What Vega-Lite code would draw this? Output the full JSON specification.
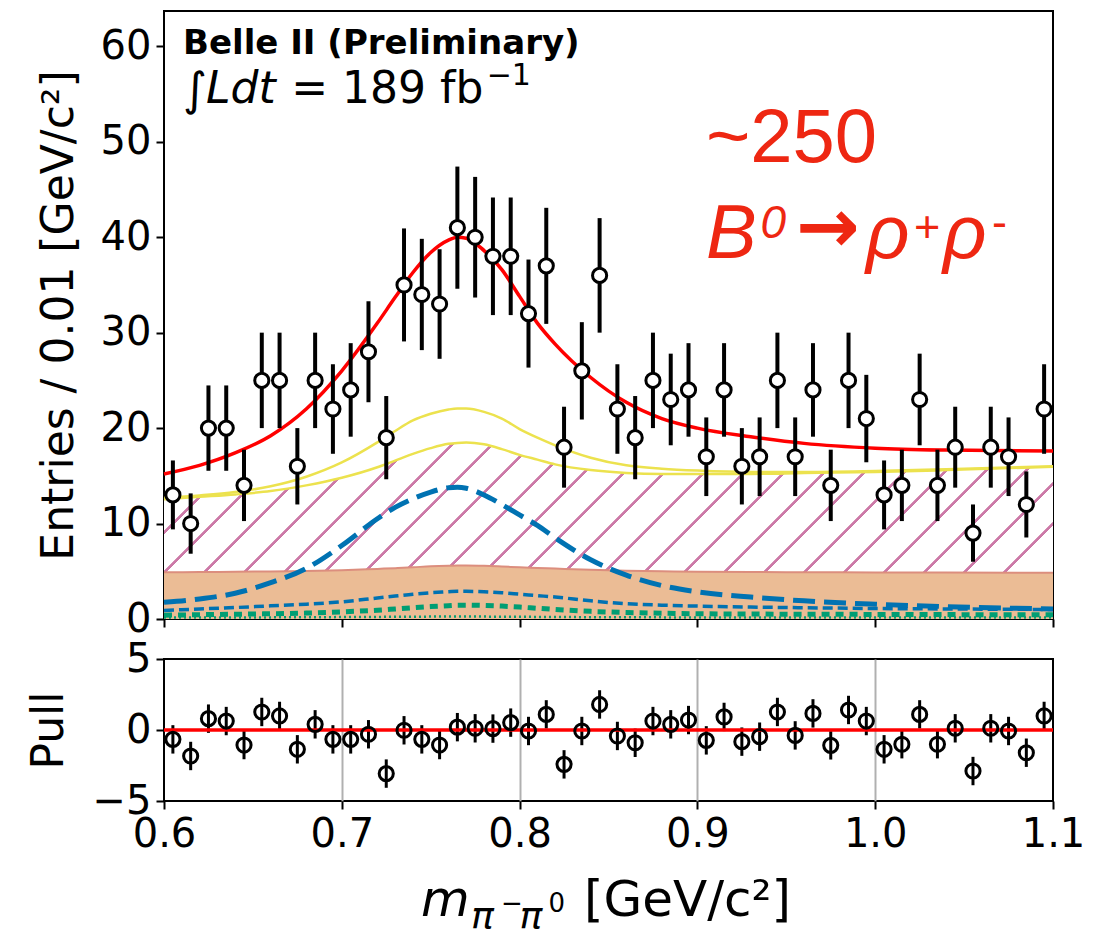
{
  "$schema": "https://vega.github.io/schema/vega-lite/v6.json",
  "background": "white",
  "padding": {"left": 26, "top": 10, "right": 10, "bottom": 5},
  "bounds": "flush",
  "spacing": 40,
  "config": {
    "font": "DejaVu Sans",
    "view": {"stroke": "black", "strokeWidth": 2},
    "axis": {
      "labelFont": "DejaVu Sans", "labelFontSize": 40, "labelColor": "black",
      "titleFont": "DejaVu Sans", "titleFontSize": 44, "titleFontWeight": "normal", "titleColor": "black",
      "tickColor": "black", "tickWidth": 2, "tickSize": 8, "domain": false, "grid": false,
      "labelFlush": false, "labelPadding": 5, "labelOverlap": false
    }
  },
  "datasets": {
    "pts": [
      {"x":0.605,"n":13,"lo":9.39,"hi":16.61,"p":-0.66,"plo":-1.66,"phi":0.34},
      {"x":0.615,"n":10,"lo":6.84,"hi":13.16,"p":-1.83,"plo":-2.83,"phi":-0.83},
      {"x":0.625,"n":20,"lo":15.53,"hi":24.47,"p":0.8,"plo":-0.2,"phi":1.8},
      {"x":0.635,"n":20,"lo":15.53,"hi":24.47,"p":0.63,"plo":-0.37,"phi":1.63},
      {"x":0.645,"n":14,"lo":10.26,"hi":17.74,"p":-1.06,"plo":-2.06,"phi":-0.06},
      {"x":0.655,"n":25,"lo":20,"hi":30,"p":1.27,"plo":0.27,"phi":2.27},
      {"x":0.665,"n":25,"lo":20,"hi":30,"p":0.99,"plo":-0.01,"phi":1.99},
      {"x":0.675,"n":16,"lo":12,"hi":20,"p":-1.36,"plo":-2.36,"phi":-0.36},
      {"x":0.685,"n":25,"lo":20,"hi":30,"p":0.4,"plo":-0.6,"phi":1.4},
      {"x":0.695,"n":22,"lo":17.31,"hi":26.69,"p":-0.66,"plo":-1.66,"phi":0.34},
      {"x":0.705,"n":24,"lo":19.1,"hi":28.9,"p":-0.66,"plo":-1.66,"phi":0.34},
      {"x":0.715,"n":28,"lo":22.71,"hi":33.29,"p":-0.3,"plo":-1.3,"phi":0.7},
      {"x":0.725,"n":19,"lo":14.64,"hi":23.36,"p":-3.07,"plo":-4.07,"phi":-2.07},
      {"x":0.735,"n":35,"lo":29.08,"hi":40.92,"p":-0.02,"plo":-1.02,"phi":0.98},
      {"x":0.745,"n":34,"lo":28.17,"hi":39.83,"p":-0.66,"plo":-1.66,"phi":0.34},
      {"x":0.755,"n":33,"lo":27.26,"hi":38.74,"p":-1.06,"plo":-2.06,"phi":-0.06},
      {"x":0.765,"n":41,"lo":34.6,"hi":47.4,"p":0.2,"plo":-0.8,"phi":1.2},
      {"x":0.775,"n":40,"lo":33.68,"hi":46.32,"p":0.12,"plo":-0.88,"phi":1.12},
      {"x":0.785,"n":38,"lo":31.84,"hi":44.16,"p":0.1,"plo":-0.9,"phi":1.1},
      {"x":0.795,"n":38,"lo":31.84,"hi":44.16,"p":0.52,"plo":-0.48,"phi":1.52},
      {"x":0.805,"n":32,"lo":26.34,"hi":37.66,"p":-0.07,"plo":-1.07,"phi":0.93},
      {"x":0.815,"n":37,"lo":30.92,"hi":43.08,"p":1.1,"plo":0.1,"phi":2.1},
      {"x":0.825,"n":18,"lo":13.76,"hi":22.24,"p":-2.42,"plo":-3.42,"phi":-1.42},
      {"x":0.835,"n":26,"lo":20.9,"hi":31.1,"p":-0.07,"plo":-1.07,"phi":0.93},
      {"x":0.845,"n":36,"lo":30,"hi":42,"p":1.8,"plo":0.8,"phi":2.8},
      {"x":0.855,"n":22,"lo":17.31,"hi":26.69,"p":-0.42,"plo":-1.42,"phi":0.58},
      {"x":0.865,"n":19,"lo":14.64,"hi":23.36,"p":-0.9,"plo":-1.9,"phi":0.1},
      {"x":0.875,"n":25,"lo":20,"hi":30,"p":0.63,"plo":-0.37,"phi":1.63},
      {"x":0.885,"n":23,"lo":18.2,"hi":27.8,"p":0.4,"plo":-0.6,"phi":1.4},
      {"x":0.895,"n":24,"lo":19.1,"hi":28.9,"p":0.7,"plo":-0.3,"phi":1.7},
      {"x":0.905,"n":17,"lo":12.88,"hi":21.12,"p":-0.73,"plo":-1.73,"phi":0.27},
      {"x":0.915,"n":24,"lo":19.1,"hi":28.9,"p":0.92,"plo":-0.08,"phi":1.92},
      {"x":0.925,"n":16,"lo":12,"hi":20,"p":-0.82,"plo":-1.82,"phi":0.18},
      {"x":0.935,"n":17,"lo":12.88,"hi":21.12,"p":-0.47,"plo":-1.47,"phi":0.53},
      {"x":0.945,"n":25,"lo":20,"hi":30,"p":1.27,"plo":0.27,"phi":2.27},
      {"x":0.955,"n":17,"lo":12.88,"hi":21.12,"p":-0.38,"plo":-1.38,"phi":0.62},
      {"x":0.965,"n":24,"lo":19.1,"hi":28.9,"p":1.17,"plo":0.17,"phi":2.17},
      {"x":0.975,"n":14,"lo":10.26,"hi":17.74,"p":-1.08,"plo":-2.08,"phi":-0.08},
      {"x":0.985,"n":25,"lo":20,"hi":30,"p":1.41,"plo":0.41,"phi":2.41},
      {"x":0.995,"n":21,"lo":16.42,"hi":25.58,"p":0.63,"plo":-0.37,"phi":1.63},
      {"x":1.005,"n":13,"lo":9.39,"hi":16.61,"p":-1.36,"plo":-2.36,"phi":-0.36},
      {"x":1.015,"n":14,"lo":10.26,"hi":17.74,"p":-1.0,"plo":-2.0,"phi":0.0},
      {"x":1.025,"n":23,"lo":18.2,"hi":27.8,"p":1.1,"plo":0.1,"phi":2.1},
      {"x":1.035,"n":14,"lo":10.26,"hi":17.74,"p":-1.0,"plo":-2.0,"phi":0.0},
      {"x":1.045,"n":18,"lo":13.76,"hi":22.24,"p":0.12,"plo":-0.88,"phi":1.12},
      {"x":1.055,"n":9,"lo":6,"hi":12,"p":-2.89,"plo":-3.89,"phi":-1.89},
      {"x":1.065,"n":18,"lo":13.76,"hi":22.24,"p":0.12,"plo":-0.88,"phi":1.12},
      {"x":1.075,"n":17,"lo":12.88,"hi":21.12,"p":-0.07,"plo":-1.07,"phi":0.93},
      {"x":1.085,"n":12,"lo":8.54,"hi":15.46,"p":-1.6,"plo":-2.6,"phi":-0.6},
      {"x":1.095,"n":22,"lo":17.31,"hi":26.69,"p":0.99,"plo":-0.01,"phi":1.99}
    ],
    "curves": [
      {"x":0.60,"tot":15.2,"yu":12.7,"yl":12.55,"org":4.9,"sig":1.75,"bsd":0.9,"gd":0.4,"gdt":0.15},
      {"x":0.62,"tot":16.1,"yu":12.95,"yl":12.8,"org":4.92,"sig":2.1,"bsd":1.05,"gd":0.45,"gdt":0.15},
      {"x":0.64,"tot":17.4,"yu":13.3,"yl":13.05,"org":4.95,"sig":2.7,"bsd":1.2,"gd":0.5,"gdt":0.16},
      {"x":0.66,"tot":19.2,"yu":13.9,"yl":13.4,"org":4.98,"sig":3.8,"bsd":1.38,"gd":0.55,"gdt":0.17},
      {"x":0.68,"tot":22.0,"yu":14.9,"yl":14.0,"org":5.02,"sig":5.3,"bsd":1.55,"gd":0.62,"gdt":0.18},
      {"x":0.70,"tot":26.0,"yu":16.4,"yl":14.8,"org":5.1,"sig":7.7,"bsd":1.8,"gd":0.75,"gdt":0.2},
      {"x":0.72,"tot":31.0,"yu":18.5,"yl":15.9,"org":5.25,"sig":10.5,"bsd":2.2,"gd":0.92,"gdt":0.22},
      {"x":0.73,"tot":33.7,"yu":19.7,"yl":16.6,"org":5.33,"sig":11.7,"bsd":2.4,"gd":1.05,"gdt":0.23},
      {"x":0.74,"tot":36.3,"yu":20.8,"yl":17.3,"org":5.42,"sig":12.6,"bsd":2.6,"gd":1.18,"gdt":0.24},
      {"x":0.75,"tot":38.4,"yu":21.5,"yl":17.9,"org":5.52,"sig":13.3,"bsd":2.75,"gd":1.3,"gdt":0.25},
      {"x":0.76,"tot":39.7,"yu":21.95,"yl":18.35,"org":5.58,"sig":13.75,"bsd":2.85,"gd":1.4,"gdt":0.26},
      {"x":0.765,"tot":40.0,"yu":22.05,"yl":18.45,"org":5.6,"sig":13.8,"bsd":2.9,"gd":1.45,"gdt":0.26},
      {"x":0.77,"tot":39.9,"yu":22.05,"yl":18.5,"org":5.6,"sig":13.7,"bsd":2.9,"gd":1.45,"gdt":0.26},
      {"x":0.78,"tot":38.6,"yu":21.7,"yl":18.3,"org":5.57,"sig":13.0,"bsd":2.85,"gd":1.42,"gdt":0.25},
      {"x":0.79,"tot":36.6,"yu":21.0,"yl":17.8,"org":5.5,"sig":12.0,"bsd":2.75,"gd":1.35,"gdt":0.24},
      {"x":0.80,"tot":33.8,"yu":19.9,"yl":17.2,"org":5.42,"sig":10.9,"bsd":2.6,"gd":1.25,"gdt":0.23},
      {"x":0.81,"tot":31.0,"yu":19.0,"yl":16.7,"org":5.35,"sig":9.8,"bsd":2.45,"gd":1.12,"gdt":0.22},
      {"x":0.82,"tot":28.8,"yu":18.2,"yl":16.2,"org":5.28,"sig":8.5,"bsd":2.3,"gd":1.0,"gdt":0.21},
      {"x":0.84,"tot":25.3,"yu":16.9,"yl":15.6,"org":5.15,"sig":6.2,"bsd":1.9,"gd":0.8,"gdt":0.19},
      {"x":0.86,"tot":22.7,"yu":16.1,"yl":15.3,"org":5.06,"sig":4.6,"bsd":1.6,"gd":0.68,"gdt":0.18},
      {"x":0.88,"tot":21.0,"yu":15.75,"yl":15.2,"org":5.0,"sig":3.5,"bsd":1.45,"gd":0.6,"gdt":0.17},
      {"x":0.90,"tot":20.0,"yu":15.55,"yl":15.2,"org":4.96,"sig":2.85,"bsd":1.35,"gd":0.55,"gdt":0.16},
      {"x":0.93,"tot":19.1,"yu":15.4,"yl":15.2,"org":4.92,"sig":2.3,"bsd":1.25,"gd":0.52,"gdt":0.15},
      {"x":0.96,"tot":18.4,"yu":15.4,"yl":15.3,"org":4.9,"sig":1.9,"bsd":1.18,"gd":0.5,"gdt":0.15},
      {"x":1.00,"tot":17.9,"yu":15.5,"yl":15.4,"org":4.88,"sig":1.55,"bsd":1.1,"gd":0.48,"gdt":0.15},
      {"x":1.04,"tot":17.7,"yu":15.7,"yl":15.6,"org":4.87,"sig":1.3,"bsd":1.05,"gd":0.46,"gdt":0.15},
      {"x":1.10,"tot":17.6,"yu":16.0,"yl":15.95,"org":4.85,"sig":1.05,"bsd":1.0,"gd":0.45,"gdt":0.15}
    ]
  },
  "vconcat": [
    {
      "width": 889,
      "height": 608,
      "layer": [
        {
          "data": {"name": "curves"},
          "mark": {"type": "area", "interpolate": "monotone",
            "fill": {"gradient": "linear", "x1": 0, "y1": 0, "x2": 1.1012, "y2": 0.1614,
              "stops": [
                {"offset": 0, "color": "#ffffff"},
                {"offset": 0.0081, "color": "#ffffff"},{"offset": 0.0087, "color": "#cc79a7"},{"offset": 0.0119, "color": "#cc79a7"},{"offset": 0.0125, "color": "#ffffff"},
                {"offset": 0.0481, "color": "#ffffff"},{"offset": 0.0487, "color": "#cc79a7"},{"offset": 0.0519, "color": "#cc79a7"},{"offset": 0.0525, "color": "#ffffff"},
                {"offset": 0.0881, "color": "#ffffff"},{"offset": 0.0887, "color": "#cc79a7"},{"offset": 0.0919, "color": "#cc79a7"},{"offset": 0.0925, "color": "#ffffff"},
                {"offset": 0.1281, "color": "#ffffff"},{"offset": 0.1287, "color": "#cc79a7"},{"offset": 0.1319, "color": "#cc79a7"},{"offset": 0.1325, "color": "#ffffff"},
                {"offset": 0.1681, "color": "#ffffff"},{"offset": 0.1687, "color": "#cc79a7"},{"offset": 0.1719, "color": "#cc79a7"},{"offset": 0.1725, "color": "#ffffff"},
                {"offset": 0.2081, "color": "#ffffff"},{"offset": 0.2087, "color": "#cc79a7"},{"offset": 0.2119, "color": "#cc79a7"},{"offset": 0.2125, "color": "#ffffff"},
                {"offset": 0.2481, "color": "#ffffff"},{"offset": 0.2487, "color": "#cc79a7"},{"offset": 0.2519, "color": "#cc79a7"},{"offset": 0.2525, "color": "#ffffff"},
                {"offset": 0.2881, "color": "#ffffff"},{"offset": 0.2887, "color": "#cc79a7"},{"offset": 0.2919, "color": "#cc79a7"},{"offset": 0.2925, "color": "#ffffff"},
                {"offset": 0.3281, "color": "#ffffff"},{"offset": 0.3287, "color": "#cc79a7"},{"offset": 0.3319, "color": "#cc79a7"},{"offset": 0.3325, "color": "#ffffff"},
                {"offset": 0.3681, "color": "#ffffff"},{"offset": 0.3687, "color": "#cc79a7"},{"offset": 0.3719, "color": "#cc79a7"},{"offset": 0.3725, "color": "#ffffff"},
                {"offset": 0.4081, "color": "#ffffff"},{"offset": 0.4087, "color": "#cc79a7"},{"offset": 0.4119, "color": "#cc79a7"},{"offset": 0.4125, "color": "#ffffff"},
                {"offset": 0.4481, "color": "#ffffff"},{"offset": 0.4487, "color": "#cc79a7"},{"offset": 0.4519, "color": "#cc79a7"},{"offset": 0.4525, "color": "#ffffff"},
                {"offset": 0.4881, "color": "#ffffff"},{"offset": 0.4887, "color": "#cc79a7"},{"offset": 0.4919, "color": "#cc79a7"},{"offset": 0.4925, "color": "#ffffff"},
                {"offset": 0.5281, "color": "#ffffff"},{"offset": 0.5287, "color": "#cc79a7"},{"offset": 0.5319, "color": "#cc79a7"},{"offset": 0.5325, "color": "#ffffff"},
                {"offset": 0.5681, "color": "#ffffff"},{"offset": 0.5687, "color": "#cc79a7"},{"offset": 0.5719, "color": "#cc79a7"},{"offset": 0.5725, "color": "#ffffff"},
                {"offset": 0.6081, "color": "#ffffff"},{"offset": 0.6087, "color": "#cc79a7"},{"offset": 0.6119, "color": "#cc79a7"},{"offset": 0.6125, "color": "#ffffff"},
                {"offset": 0.6481, "color": "#ffffff"},{"offset": 0.6487, "color": "#cc79a7"},{"offset": 0.6519, "color": "#cc79a7"},{"offset": 0.6525, "color": "#ffffff"},
                {"offset": 0.6881, "color": "#ffffff"},{"offset": 0.6887, "color": "#cc79a7"},{"offset": 0.6919, "color": "#cc79a7"},{"offset": 0.6925, "color": "#ffffff"},
                {"offset": 0.7281, "color": "#ffffff"},{"offset": 0.7287, "color": "#cc79a7"},{"offset": 0.7319, "color": "#cc79a7"},{"offset": 0.7325, "color": "#ffffff"},
                {"offset": 0.7681, "color": "#ffffff"},{"offset": 0.7687, "color": "#cc79a7"},{"offset": 0.7719, "color": "#cc79a7"},{"offset": 0.7725, "color": "#ffffff"},
                {"offset": 0.8081, "color": "#ffffff"},{"offset": 0.8087, "color": "#cc79a7"},{"offset": 0.8119, "color": "#cc79a7"},{"offset": 0.8125, "color": "#ffffff"},
                {"offset": 0.8481, "color": "#ffffff"},{"offset": 0.8487, "color": "#cc79a7"},{"offset": 0.8519, "color": "#cc79a7"},{"offset": 0.8525, "color": "#ffffff"},
                {"offset": 0.8881, "color": "#ffffff"},{"offset": 0.8887, "color": "#cc79a7"},{"offset": 0.8919, "color": "#cc79a7"},{"offset": 0.8925, "color": "#ffffff"},
                {"offset": 0.9281, "color": "#ffffff"},{"offset": 0.9287, "color": "#cc79a7"},{"offset": 0.9319, "color": "#cc79a7"},{"offset": 0.9325, "color": "#ffffff"},
                {"offset": 0.9681, "color": "#ffffff"},{"offset": 0.9687, "color": "#cc79a7"},{"offset": 0.9719, "color": "#cc79a7"},{"offset": 0.9725, "color": "#ffffff"},
                {"offset": 1, "color": "#ffffff"}
              ]}
          },
          "encoding": {
            "x": {"field": "x", "type": "quantitative", "title": null,
              "scale": {"domain": [0.6, 1.1], "nice": false, "zero": false},
              "axis": {"values": [0.6, 0.7, 0.8, 0.9, 1.0, 1.1], "labels": false, "title": null}},
            "y": {"field": "yl", "type": "quantitative", "title": "Entries / 0.01 [GeV/c²]",
              "scale": {"domain": [0, 63.7], "nice": false, "zero": false},
              "axis": {"values": [0, 10, 20, 30, 40, 50, 60], "title": "Entries / 0.01 [GeV/c²]", "minExtent": 75, "maxExtent": 75, "titlePadding": 8}},
            "y2": {"field": "org"}
          }
        },
        {
          "data": {"name": "curves"},
          "mark": {"type": "area", "interpolate": "monotone", "fill": "#ebbc95"},
          "encoding": {
            "x": {"field": "x", "type": "quantitative", "title": null, "scale": {"domain": [0.6, 1.1], "nice": false, "zero": false}},
            "y": {"field": "org", "type": "quantitative", "title": "Entries / 0.01 [GeV/c²]", "scale": {"domain": [0, 63.7], "nice": false, "zero": false}}
          }
        },
        {
          "data": {"name": "curves"},
          "mark": {"type": "line", "interpolate": "monotone", "color": "#dc8e7e", "strokeWidth": 2},
          "encoding": {
            "x": {"field": "x", "type": "quantitative", "title": null, "scale": {"domain": [0.6, 1.1], "nice": false, "zero": false}},
            "y": {"field": "org", "type": "quantitative", "title": "Entries / 0.01 [GeV/c²]", "scale": {"domain": [0, 63.7], "nice": false, "zero": false}}
          }
        },
        {
          "data": {"name": "curves"},
          "mark": {"type": "line", "interpolate": "monotone", "color": "#ece24e", "strokeWidth": 2.5},
          "encoding": {
            "x": {"field": "x", "type": "quantitative", "title": null, "scale": {"domain": [0.6, 1.1], "nice": false, "zero": false}},
            "y": {"field": "yl", "type": "quantitative", "title": "Entries / 0.01 [GeV/c²]", "scale": {"domain": [0, 63.7], "nice": false, "zero": false}}
          }
        },
        {
          "data": {"name": "curves"},
          "mark": {"type": "line", "interpolate": "monotone", "color": "#ece24e", "strokeWidth": 2.5},
          "encoding": {
            "x": {"field": "x", "type": "quantitative", "title": null, "scale": {"domain": [0.6, 1.1], "nice": false, "zero": false}},
            "y": {"field": "yu", "type": "quantitative", "title": "Entries / 0.01 [GeV/c²]", "scale": {"domain": [0, 63.7], "nice": false, "zero": false}}
          }
        },
        {
          "data": {"name": "curves"},
          "mark": {"type": "line", "interpolate": "monotone", "color": "#009e73", "strokeWidth": 2.5, "strokeDash": [2, 3]},
          "encoding": {
            "x": {"field": "x", "type": "quantitative", "title": null, "scale": {"domain": [0.6, 1.1], "nice": false, "zero": false}},
            "y": {"field": "gdt", "type": "quantitative", "title": "Entries / 0.01 [GeV/c²]", "scale": {"domain": [0, 63.7], "nice": false, "zero": false}}
          }
        },
        {
          "data": {"name": "curves"},
          "mark": {"type": "line", "interpolate": "monotone", "color": "#009e73", "strokeWidth": 5, "strokeDash": [8, 6]},
          "encoding": {
            "x": {"field": "x", "type": "quantitative", "title": null, "scale": {"domain": [0.6, 1.1], "nice": false, "zero": false}},
            "y": {"field": "gd", "type": "quantitative", "title": "Entries / 0.01 [GeV/c²]", "scale": {"domain": [0, 63.7], "nice": false, "zero": false}}
          }
        },
        {
          "data": {"name": "curves"},
          "mark": {"type": "line", "interpolate": "monotone", "color": "#0072b2", "strokeWidth": 3.5, "strokeDash": [10, 5]},
          "encoding": {
            "x": {"field": "x", "type": "quantitative", "title": null, "scale": {"domain": [0.6, 1.1], "nice": false, "zero": false}},
            "y": {"field": "bsd", "type": "quantitative", "title": "Entries / 0.01 [GeV/c²]", "scale": {"domain": [0, 63.7], "nice": false, "zero": false}}
          }
        },
        {
          "data": {"name": "curves"},
          "mark": {"type": "line", "interpolate": "monotone", "color": "#0072b2", "strokeWidth": 5, "strokeDash": [22, 9]},
          "encoding": {
            "x": {"field": "x", "type": "quantitative", "title": null, "scale": {"domain": [0.6, 1.1], "nice": false, "zero": false}},
            "y": {"field": "sig", "type": "quantitative", "title": "Entries / 0.01 [GeV/c²]", "scale": {"domain": [0, 63.7], "nice": false, "zero": false}}
          }
        },
        {
          "data": {"name": "curves"},
          "mark": {"type": "line", "interpolate": "monotone", "color": "#ff0000", "strokeWidth": 3.5},
          "encoding": {
            "x": {"field": "x", "type": "quantitative", "title": null, "scale": {"domain": [0.6, 1.1], "nice": false, "zero": false}},
            "y": {"field": "tot", "type": "quantitative", "title": "Entries / 0.01 [GeV/c²]", "scale": {"domain": [0, 63.7], "nice": false, "zero": false}}
          }
        },
        {
          "data": {"name": "pts"},
          "mark": {"type": "rule", "color": "black", "strokeWidth": 4},
          "encoding": {
            "x": {"field": "x", "type": "quantitative", "title": null, "scale": {"domain": [0.6, 1.1], "nice": false, "zero": false}},
            "y": {"field": "lo", "type": "quantitative", "title": "Entries / 0.01 [GeV/c²]", "scale": {"domain": [0, 63.7], "nice": false, "zero": false}},
            "y2": {"field": "hi"}
          }
        },
        {
          "data": {"name": "pts"},
          "mark": {"type": "point", "shape": "circle", "filled": true, "fill": "white", "stroke": "black", "strokeWidth": 3, "size": 200, "opacity": 1},
          "encoding": {
            "x": {"field": "x", "type": "quantitative", "title": null, "scale": {"domain": [0.6, 1.1], "nice": false, "zero": false}},
            "y": {"field": "n", "type": "quantitative", "title": "Entries / 0.01 [GeV/c²]", "scale": {"domain": [0, 63.7], "nice": false, "zero": false}}
          }
        },
        {
          "data": {"values": [{}]},
          "mark": {"type": "text", "text": "Belle II (Preliminary)", "font": "DejaVu Sans", "fontSize": 34, "fontWeight": "bold", "align": "left", "baseline": "alphabetic", "color": "black"},
          "encoding": {
            "x": {"datum": 0.6107, "type": "quantitative", "title": null, "scale": {"domain": [0.6, 1.1], "nice": false, "zero": false}},
            "y": {"datum": 59.2, "type": "quantitative", "title": "Entries / 0.01 [GeV/c²]", "scale": {"domain": [0, 63.7], "nice": false, "zero": false}}
          }
        },
        {
          "data": {"values": [{}]},
          "mark": {"type": "text", "text": "∫", "font": "DejaVu Sans", "fontSize": 46, "align": "left", "baseline": "alphabetic", "color": "black"},
          "encoding": {
            "x": {"datum": 0.6107, "type": "quantitative", "title": null, "scale": {"domain": [0.6, 1.1], "nice": false, "zero": false}},
            "y": {"datum": 53.8, "type": "quantitative", "title": "Entries / 0.01 [GeV/c²]", "scale": {"domain": [0, 63.7], "nice": false, "zero": false}}
          }
        },
        {
          "data": {"values": [{}]},
          "mark": {"type": "text", "text": "Ldt", "font": "DejaVu Sans", "fontSize": 44, "fontStyle": "italic", "align": "left", "baseline": "alphabetic", "color": "black"},
          "encoding": {
            "x": {"datum": 0.6236, "type": "quantitative", "title": null, "scale": {"domain": [0.6, 1.1], "nice": false, "zero": false}},
            "y": {"datum": 54.1, "type": "quantitative", "title": "Entries / 0.01 [GeV/c²]", "scale": {"domain": [0, 63.7], "nice": false, "zero": false}}
          }
        },
        {
          "data": {"values": [{}]},
          "mark": {"type": "text", "text": "= 189 fb", "font": "DejaVu Sans", "fontSize": 44, "align": "left", "baseline": "alphabetic", "color": "black"},
          "encoding": {
            "x": {"datum": 0.6715, "type": "quantitative", "title": null, "scale": {"domain": [0.6, 1.1], "nice": false, "zero": false}},
            "y": {"datum": 54.1, "type": "quantitative", "title": "Entries / 0.01 [GeV/c²]", "scale": {"domain": [0, 63.7], "nice": false, "zero": false}}
          }
        },
        {
          "data": {"values": [{}]},
          "mark": {"type": "text", "text": "−1", "font": "DejaVu Sans", "fontSize": 30, "align": "left", "baseline": "alphabetic", "color": "black"},
          "encoding": {
            "x": {"datum": 0.7815, "type": "quantitative", "title": null, "scale": {"domain": [0.6, 1.1], "nice": false, "zero": false}},
            "y": {"datum": 55.9, "type": "quantitative", "title": "Entries / 0.01 [GeV/c²]", "scale": {"domain": [0, 63.7], "nice": false, "zero": false}}
          }
        },
        {
          "data": {"values": [{}]},
          "mark": {"type": "text", "text": "~250", "font": "Liberation Sans", "fontSize": 76, "align": "left", "baseline": "alphabetic", "color": "#ee2712"},
          "encoding": {
            "x": {"datum": 0.9048, "type": "quantitative", "title": null, "scale": {"domain": [0.6, 1.1], "nice": false, "zero": false}},
            "y": {"datum": 47.9, "type": "quantitative", "title": "Entries / 0.01 [GeV/c²]", "scale": {"domain": [0, 63.7], "nice": false, "zero": false}}
          }
        },
        {
          "data": {"values": [{}]},
          "mark": {"type": "text", "text": "B", "font": "Liberation Sans", "fontSize": 76, "fontStyle": "italic", "align": "left", "baseline": "alphabetic", "color": "#ee2712"},
          "encoding": {
            "x": {"datum": 0.9048, "type": "quantitative", "title": null, "scale": {"domain": [0.6, 1.1], "nice": false, "zero": false}},
            "y": {"datum": 37.85, "type": "quantitative", "title": "Entries / 0.01 [GeV/c²]", "scale": {"domain": [0, 63.7], "nice": false, "zero": false}}
          }
        },
        {
          "data": {"values": [{}]},
          "mark": {"type": "text", "text": "0", "font": "Liberation Sans", "fontSize": 46, "fontStyle": "italic", "align": "left", "baseline": "alphabetic", "color": "#ee2712"},
          "encoding": {
            "x": {"datum": 0.9355, "type": "quantitative", "title": null, "scale": {"domain": [0.6, 1.1], "nice": false, "zero": false}},
            "y": {"datum": 39.9, "type": "quantitative", "title": "Entries / 0.01 [GeV/c²]", "scale": {"domain": [0, 63.7], "nice": false, "zero": false}}
          }
        },
        {
          "data": {"values": [{}]},
          "mark": {"type": "text", "text": "→", "font": "DejaVu Sans", "fontSize": 76, "fontWeight": "bold", "align": "left", "baseline": "alphabetic", "color": "#ee2712"},
          "encoding": {
            "x": {"datum": 0.9555, "type": "quantitative", "title": null, "scale": {"domain": [0.6, 1.1], "nice": false, "zero": false}},
            "y": {"datum": 38.4, "type": "quantitative", "title": "Entries / 0.01 [GeV/c²]", "scale": {"domain": [0, 63.7], "nice": false, "zero": false}}
          }
        },
        {
          "data": {"values": [{}]},
          "mark": {"type": "text", "text": "ρ", "font": "Liberation Sans", "fontSize": 76, "fontStyle": "italic", "align": "left", "baseline": "alphabetic", "color": "#ee2712"},
          "encoding": {
            "x": {"datum": 0.9948, "type": "quantitative", "title": null, "scale": {"domain": [0.6, 1.1], "nice": false, "zero": false}},
            "y": {"datum": 37.85, "type": "quantitative", "title": "Entries / 0.01 [GeV/c²]", "scale": {"domain": [0, 63.7], "nice": false, "zero": false}}
          }
        },
        {
          "data": {"values": [{}]},
          "mark": {"type": "text", "text": "+", "font": "Liberation Sans", "fontSize": 45, "align": "left", "baseline": "alphabetic", "color": "#ee2712"},
          "encoding": {
            "x": {"datum": 1.0218, "type": "quantitative", "title": null, "scale": {"domain": [0.6, 1.1], "nice": false, "zero": false}},
            "y": {"datum": 39.5, "type": "quantitative", "title": "Entries / 0.01 [GeV/c²]", "scale": {"domain": [0, 63.7], "nice": false, "zero": false}}
          }
        },
        {
          "data": {"values": [{}]},
          "mark": {"type": "text", "text": "ρ", "font": "Liberation Sans", "fontSize": 76, "fontStyle": "italic", "align": "left", "baseline": "alphabetic", "color": "#ee2712"},
          "encoding": {
            "x": {"datum": 1.0381, "type": "quantitative", "title": null, "scale": {"domain": [0.6, 1.1], "nice": false, "zero": false}},
            "y": {"datum": 37.85, "type": "quantitative", "title": "Entries / 0.01 [GeV/c²]", "scale": {"domain": [0, 63.7], "nice": false, "zero": false}}
          }
        },
        {
          "data": {"values": [{}]},
          "mark": {"type": "text", "text": "-", "font": "Liberation Sans", "fontSize": 45, "align": "left", "baseline": "alphabetic", "color": "#ee2712"},
          "encoding": {
            "x": {"datum": 1.0657, "type": "quantitative", "title": null, "scale": {"domain": [0.6, 1.1], "nice": false, "zero": false}},
            "y": {"datum": 40.0, "type": "quantitative", "title": "Entries / 0.01 [GeV/c²]", "scale": {"domain": [0, 63.7], "nice": false, "zero": false}}
          }
        }
      ]
    },
    {
      "width": 889,
      "height": 142,
      "layer": [
        {
          "data": {"name": "pts"},
          "mark": {"type": "rule", "color": "black", "strokeWidth": 3},
          "encoding": {
            "x": {"field": "x", "type": "quantitative", "title": null,
              "scale": {"domain": [0.6, 1.1], "nice": false, "zero": false},
              "axis": {"values": [0.6, 0.7, 0.8, 0.9, 1.0, 1.1], "format": ".1f", "title": null, "grid": true, "gridColor": "#b0b0b0", "gridWidth": 2,
                "gridOpacity": {"condition": {"test": "datum.value < 0.65 || datum.value > 1.05", "value": 0}, "value": 1}}},
            "y": {"field": "plo", "type": "quantitative", "title": "Pull",
              "scale": {"domain": [-5, 5], "nice": false, "zero": false},
              "axis": {"values": [-5, 0, 5], "title": "Pull", "minExtent": 75, "maxExtent": 75, "titlePadding": 18}},
            "y2": {"field": "phi"}
          }
        },
        {
          "data": {"values": [{}]},
          "mark": {"type": "rule", "color": "#ff0000", "strokeWidth": 3.5},
          "encoding": {
            "y": {"datum": 0, "type": "quantitative", "title": "Pull", "scale": {"domain": [-5, 5], "nice": false, "zero": false}}
          }
        },
        {
          "data": {"name": "pts"},
          "mark": {"type": "point", "shape": "circle", "filled": false, "color": "black", "strokeWidth": 3, "size": 200, "opacity": 1},
          "encoding": {
            "x": {"field": "x", "type": "quantitative", "title": null, "scale": {"domain": [0.6, 1.1], "nice": false, "zero": false}},
            "y": {"field": "p", "type": "quantitative", "title": "Pull", "scale": {"domain": [-5, 5], "nice": false, "zero": false}}
          }
        },
        {
          "data": {"values": [{}]},
          "mark": {"type": "text", "text": "m", "font": "DejaVu Sans", "fontSize": 50, "fontStyle": "italic", "align": "left", "baseline": "alphabetic", "color": "black"},
          "encoding": {
            "x": {"datum": 0.7445, "type": "quantitative", "title": null, "scale": {"domain": [0.6, 1.1], "nice": false, "zero": false}},
            "y": {"datum": -13.1, "type": "quantitative", "title": "Pull", "scale": {"domain": [-5, 5], "nice": false, "zero": false}}
          }
        },
        {
          "data": {"values": [{}]},
          "mark": {"type": "text", "text": "π", "font": "DejaVu Sans", "fontSize": 38, "fontStyle": "italic", "align": "left", "baseline": "alphabetic", "color": "black"},
          "encoding": {
            "x": {"datum": 0.7727, "type": "quantitative", "title": null, "scale": {"domain": [0.6, 1.1], "nice": false, "zero": false}},
            "y": {"datum": -13.94, "type": "quantitative", "title": "Pull", "scale": {"domain": [-5, 5], "nice": false, "zero": false}}
          }
        },
        {
          "data": {"values": [{}]},
          "mark": {"type": "text", "text": "−", "font": "DejaVu Sans", "fontSize": 26, "align": "left", "baseline": "alphabetic", "color": "black"},
          "encoding": {
            "x": {"datum": 0.7895, "type": "quantitative", "title": null, "scale": {"domain": [0.6, 1.1], "nice": false, "zero": false}},
            "y": {"datum": -12.85, "type": "quantitative", "title": "Pull", "scale": {"domain": [-5, 5], "nice": false, "zero": false}}
          }
        },
        {
          "data": {"values": [{}]},
          "mark": {"type": "text", "text": "π", "font": "DejaVu Sans", "fontSize": 38, "fontStyle": "italic", "align": "left", "baseline": "alphabetic", "color": "black"},
          "encoding": {
            "x": {"datum": 0.8, "type": "quantitative", "title": null, "scale": {"domain": [0.6, 1.1], "nice": false, "zero": false}},
            "y": {"datum": -13.94, "type": "quantitative", "title": "Pull", "scale": {"domain": [-5, 5], "nice": false, "zero": false}}
          }
        },
        {
          "data": {"values": [{}]},
          "mark": {"type": "text", "text": "0", "font": "DejaVu Sans", "fontSize": 26, "align": "left", "baseline": "alphabetic", "color": "black"},
          "encoding": {
            "x": {"datum": 0.8163, "type": "quantitative", "title": null, "scale": {"domain": [0.6, 1.1], "nice": false, "zero": false}},
            "y": {"datum": -12.85, "type": "quantitative", "title": "Pull", "scale": {"domain": [-5, 5], "nice": false, "zero": false}}
          }
        },
        {
          "data": {"values": [{}]},
          "mark": {"type": "text", "text": "[GeV/c²]", "font": "DejaVu Sans", "fontSize": 50, "align": "left", "baseline": "alphabetic", "color": "black"},
          "encoding": {
            "x": {"datum": 0.8362, "type": "quantitative", "title": null, "scale": {"domain": [0.6, 1.1], "nice": false, "zero": false}},
            "y": {"datum": -13.1, "type": "quantitative", "title": "Pull", "scale": {"domain": [-5, 5], "nice": false, "zero": false}}
          }
        }
      ]
    }
  ]
}
